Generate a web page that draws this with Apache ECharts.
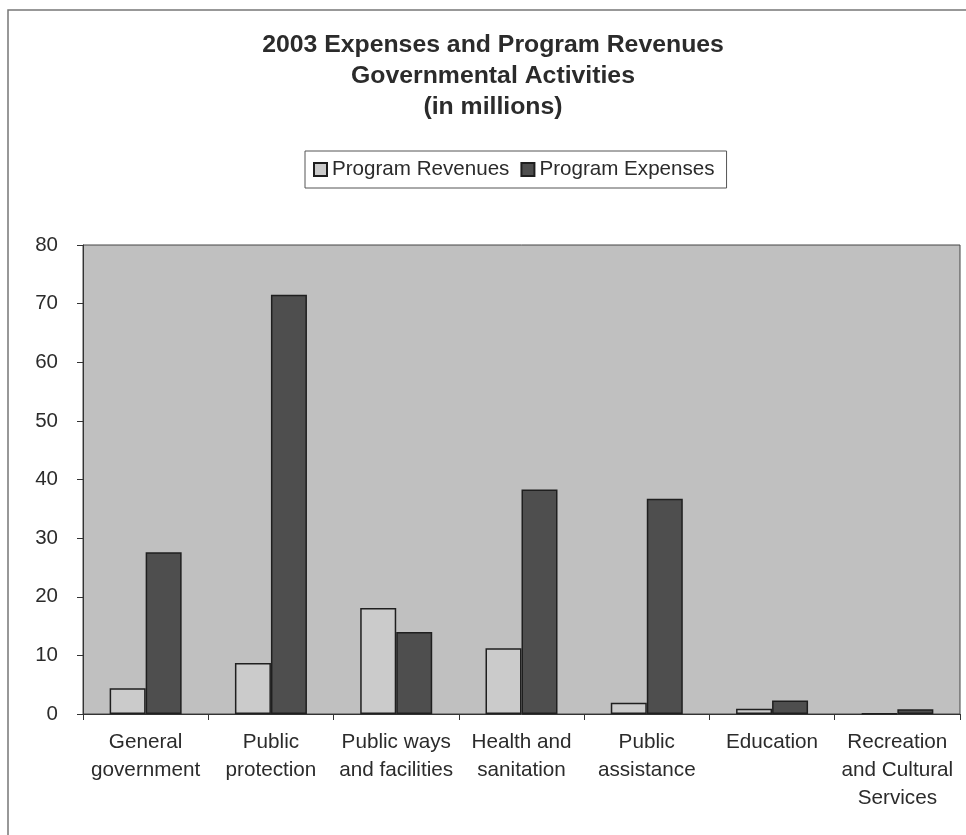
<!DOCTYPE html>
<html>
<head>
<meta charset="utf-8">
<script src="https://cdn.jsdelivr.net/npm/echarts@6/dist/echarts.min.js"></script>
<style>
  html, body { margin: 0; padding: 0; background: #ffffff; }
  #chart { width: 966px; height: 835px; }
</style>
</head>
<body>
<div id="chart"></div>
<script>
// Governmental activities, 2003 (in millions)
const categories = [
  'General\ngovernment',
  'Public\nprotection',
  'Public ways\nand facilities',
  'Health and\nsanitation',
  'Public\nassistance',
  'Education',
  'Recreation\nand Cultural\nServices'
];
const programRevenues = [4.4, 8.7, 18.1, 11.2, 1.9, 0.9, 0.1];
const programExpenses = [27.6, 71.5, 14.0, 38.3, 36.7, 2.3, 0.8];
const yTicks = { min: 0, max: 80, interval: 10 };

const textColor = '#2b2b2b';
const fontFamily = '"Liberation Sans", Arial, sans-serif';

const chart = echarts.init(document.getElementById('chart'), null, { renderer: 'canvas' });

chart.setOption({
  backgroundColor: '#ffffff',
  animation: false,
  textStyle: { fontFamily: fontFamily, color: textColor },
  title: {
    text: '2003 Expenses and Program Revenues\nGovernmental Activities\n(in millions)',
    left: 488,
    textAlign: 'center',
    top: 25,
    textStyle: {
      fontFamily: fontFamily,
      fontSize: 24.8,
      fontWeight: 'bold',
      color: textColor,
      lineHeight: 31
    }
  },
  legend: {
    left: 305,
    top: 151,
    padding: [8, 12, 8, 8],
    icon: 'rect',
    itemWidth: 13,
    itemHeight: 13,
    itemGap: 11,
    borderColor: '#555555',
    borderWidth: 1,
    backgroundColor: '#ffffff',
    textStyle: { fontFamily: fontFamily, fontSize: 20.6, color: textColor, padding: [0, 0, 0, 0] },
    data: ['Program Revenues', 'Program Expenses']
  },
  grid: {
    left: 83,
    right: 6,
    top: 245,
    bottom: 121,
    show: true,
    backgroundColor: '#c0c0c0',
    borderColor: '#444444',
    borderWidth: 1
  },
  xAxis: {
    type: 'category',
    data: categories,
    axisLine: { show: true, lineStyle: { color: '#333333', width: 1 } },
    axisTick: { show: true, alignWithLabel: false, length: 6, lineStyle: { color: '#333333' } },
    axisLabel: {
      interval: 0,
      margin: 14,
      fontFamily: fontFamily,
      fontSize: 20.7,
      lineHeight: 28,
      color: textColor,
      align: 'center'
    },
    splitLine: { show: false }
  },
  yAxis: {
    type: 'value',
    min: yTicks.min,
    max: yTicks.max,
    interval: yTicks.interval,
    axisLine: { show: true, lineStyle: { color: '#333333', width: 1 } },
    axisTick: { show: true, length: 6, lineStyle: { color: '#333333' } },
    axisLabel: {
      margin: 25,
      fontFamily: fontFamily,
      fontSize: 20.5,
      color: textColor
    },
    splitLine: { show: false }
  },
  series: [
    {
      name: 'Program Revenues',
      type: 'bar',
      data: programRevenues,
      barWidth: 36,
      barGap: '0%',
      itemStyle: { color: '#cbcbcb', borderColor: '#1f1f1f', borderWidth: 1.5 }
    },
    {
      name: 'Program Expenses',
      type: 'bar',
      data: programExpenses,
      barWidth: 36,
      barGap: '0%',
      itemStyle: { color: '#4e4e4e', borderColor: '#1f1f1f', borderWidth: 1.5 }
    }
  ],
  graphic: [
    {
      type: 'rect',
      silent: true,
      shape: { x: 8, y: 10, width: 980, height: 860 },
      style: { fill: null, stroke: '#777777', lineWidth: 1.5 }
    }
  ]
});
</script>
</body>
</html>
